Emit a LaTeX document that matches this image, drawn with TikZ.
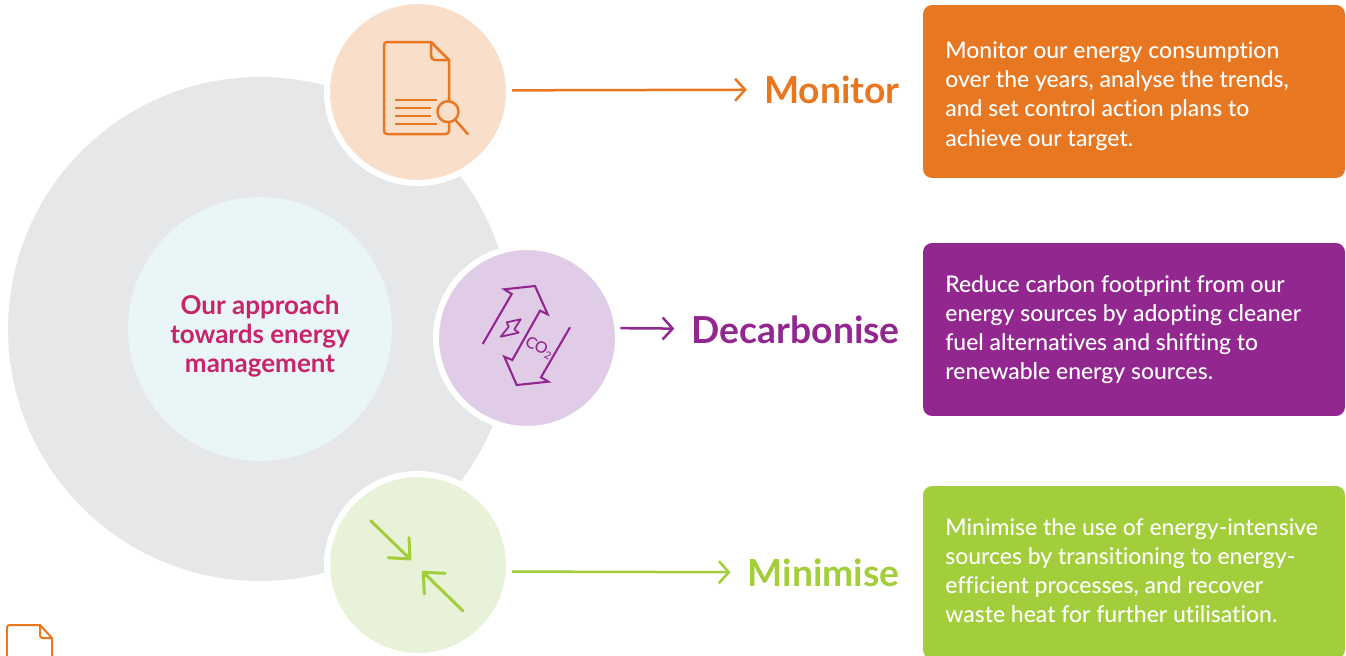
\documentclass[tikz,border=0pt]{standalone}
\usepackage{fontspec}
\setmainfont[Ligatures=NoCommon]{Lato}
\newfontfamily\boxfont[Ligatures=NoCommon]{Lato Medium}
\usetikzlibrary{arrows.meta, positioning}
\definecolor{monorange}{HTML}{E87722}
\definecolor{monlight}{HTML}{F9DFCA}
\definecolor{decpurple}{HTML}{92278F}
\definecolor{declight}{HTML}{E0CCE6}
\definecolor{mingreen}{HTML}{A1CE3A}
\definecolor{minlight}{HTML}{E8F2D8}
\definecolor{ringgrey}{HTML}{E6E7E8}
\definecolor{corelight}{HTML}{EAF5F8}
\definecolor{corepink}{HTML}{C8246C}

\begin{document}
\begin{tikzpicture}[
  x=0.02cm, y=-0.02cm,
  lever/.style={circle, draw=white, line width=0.12cm, minimum size=3.64cm, inner sep=0pt},
  flow/.style={line width=0.05cm, -{Straight Barb[length=0.2cm, width=0.44cm, line width=0.05cm]}},
  tag/.style={anchor=east, inner sep=0pt, inner xsep=0.34cm, font=\fontsize{21.2}{24}\selectfont\bfseries},
  infobox/.style={rounded corners=0.18cm, minimum width=8.44cm, minimum height=3.46cm},
  infotext/.style={anchor=west, inner sep=0pt, align=left, text=white,
                   font=\boxfont\fontsize{13.05}{16.6}\selectfont},
  glyph/.style={line width=0.05cm, line join=round, line cap=round},
]
  \useasboundingbox (0,0) rectangle (1346,656);

  % Grey ring and core
  \node[circle, fill=ringgrey, minimum size=10.08cm, inner sep=0pt] (ring) at (260,329) {};
  \node[circle, fill=corelight, minimum size=5.28cm, inner sep=0pt] (core) at (260,329) {};
  \node[align=center, inner sep=0pt, text=corepink,
        font=\fontsize{14.8}{16.6}\selectfont\bfseries] (coretext) at (260,336.5)
        {Our approach\\towards energy\\management};

  % Lever circles
  \node[lever, fill=monlight] (moncircle) at (418,92) {};
  \node[lever, fill=declight] (deccircle) at (527,338) {};
  \node[lever, fill=minlight] (mincircle) at (418,565) {};

  % Lever names
  \node[tag, text=monorange] (montag) at (917,89.5) {Monitor};
  \node[tag, text=decpurple] (dectag) at (917,329.5) {Decarbonise};
  \node[tag, text=mingreen] (mintag) at (917,572.5) {Minimise};

  % Text boxes
  \node[infobox, fill=monorange] (monbox) at (1134,91.5) {};
  \node[infotext] (montext) at (945,96)
    {Monitor our energy consumption\\over the years, analyse the trends,\\and set control action plans to\\achieve our target.};
  \node[infobox, fill=decpurple] (decbox) at (1134,329.5) {};
  \node[infotext] (dectext) at (945,329.5)
    {Reduce carbon footprint from our\\energy sources by adopting cleaner\\fuel alternatives and shifting to\\renewable energy sources.};
  \node[infobox, fill=mingreen] (minbox) at (1134,572.5) {};
  \node[infotext] (mintext) at (945,570.5)
    {Minimise the use of energy-intensive\\sources by transitioning to energy-\\efficient processes, and recover\\waste heat for further utilisation.};

  % Circles -> names
  \draw[flow, monorange] (moncircle.1) -- (montag);
  \draw[flow, decpurple] (deccircle.6) -- (dectag);
  \draw[flow, mingreen] (mincircle.-4.4) -- (mintag);

  % Document icon
  \draw[glyph, monorange] (431,42) -- (449,60) -- (449,101);
  \draw[glyph, monorange, rounded corners=0.06cm] (449,122) -- (449,134) -- (384,134) -- (384,42) -- (431,42);
  \draw[glyph, monorange, rounded corners=0.08cm] (431,42) -- (431,60) -- (449,60);
  \draw[glyph, monorange, line cap=butt] (395,100) -- (437,100) (395,108) -- (431,108)
    (395,116) -- (431,116) (395,124) -- (437,124);
  \draw[glyph, monorange] (448,111.7) circle (10.5) (456,120.7) -- (467.7,134);

  % Carbon icon
  \draw[glyph, decpurple, line width=0.042cm, line cap=butt, line join=miter] (482.7,344) -- (511.7,294) -- (504.3,289.3) -- (535,286)
    -- (547.7,314.3) -- (540,310.7) -- (512.3,360) -- (504.3,356.7) -- (516.7,385)
    -- (548.3,381.7) -- (541,377.3) -- (570,327.3);
  \draw[glyph, decpurple, line width=0.036cm] (506.7,322.3) -- (520.7,319.3) -- (514.3,329.3) -- (518.7,332.7)
    -- (500.7,336.7) -- (508.7,326.7) -- cycle;
  \node[text=decpurple, rotate=-28, inner sep=0pt, font=\boxfont\fontsize{9}{9}\selectfont] (co) at (539.5,348) {CO\textsubscript{2}};

  % Inward arrows icon
  \draw[glyph, mingreen, line width=0.06cm] (370.7,520.7) -- (410,559) (388.3,557.7) -- (410,559) -- (409,537.7);
  \draw[glyph, mingreen, line width=0.06cm] (462.7,610.7) -- (423.3,572.3) (445,573.3) -- (423.3,572.3) -- (424.3,594);

  % Small cut-off document at the page edge
  \draw[glyph, monorange, line width=0.04cm, rounded corners=0.05cm] (52,670) -- (52,638) (7,670) -- (7,625) -- (40,625);
  \draw[glyph, monorange, line width=0.04cm] (40,625) -- (52,638);
  \draw[glyph, monorange, line width=0.04cm, rounded corners=0.05cm] (40,625) -- (40,638) -- (52,638);
\end{tikzpicture}
\end{document}
